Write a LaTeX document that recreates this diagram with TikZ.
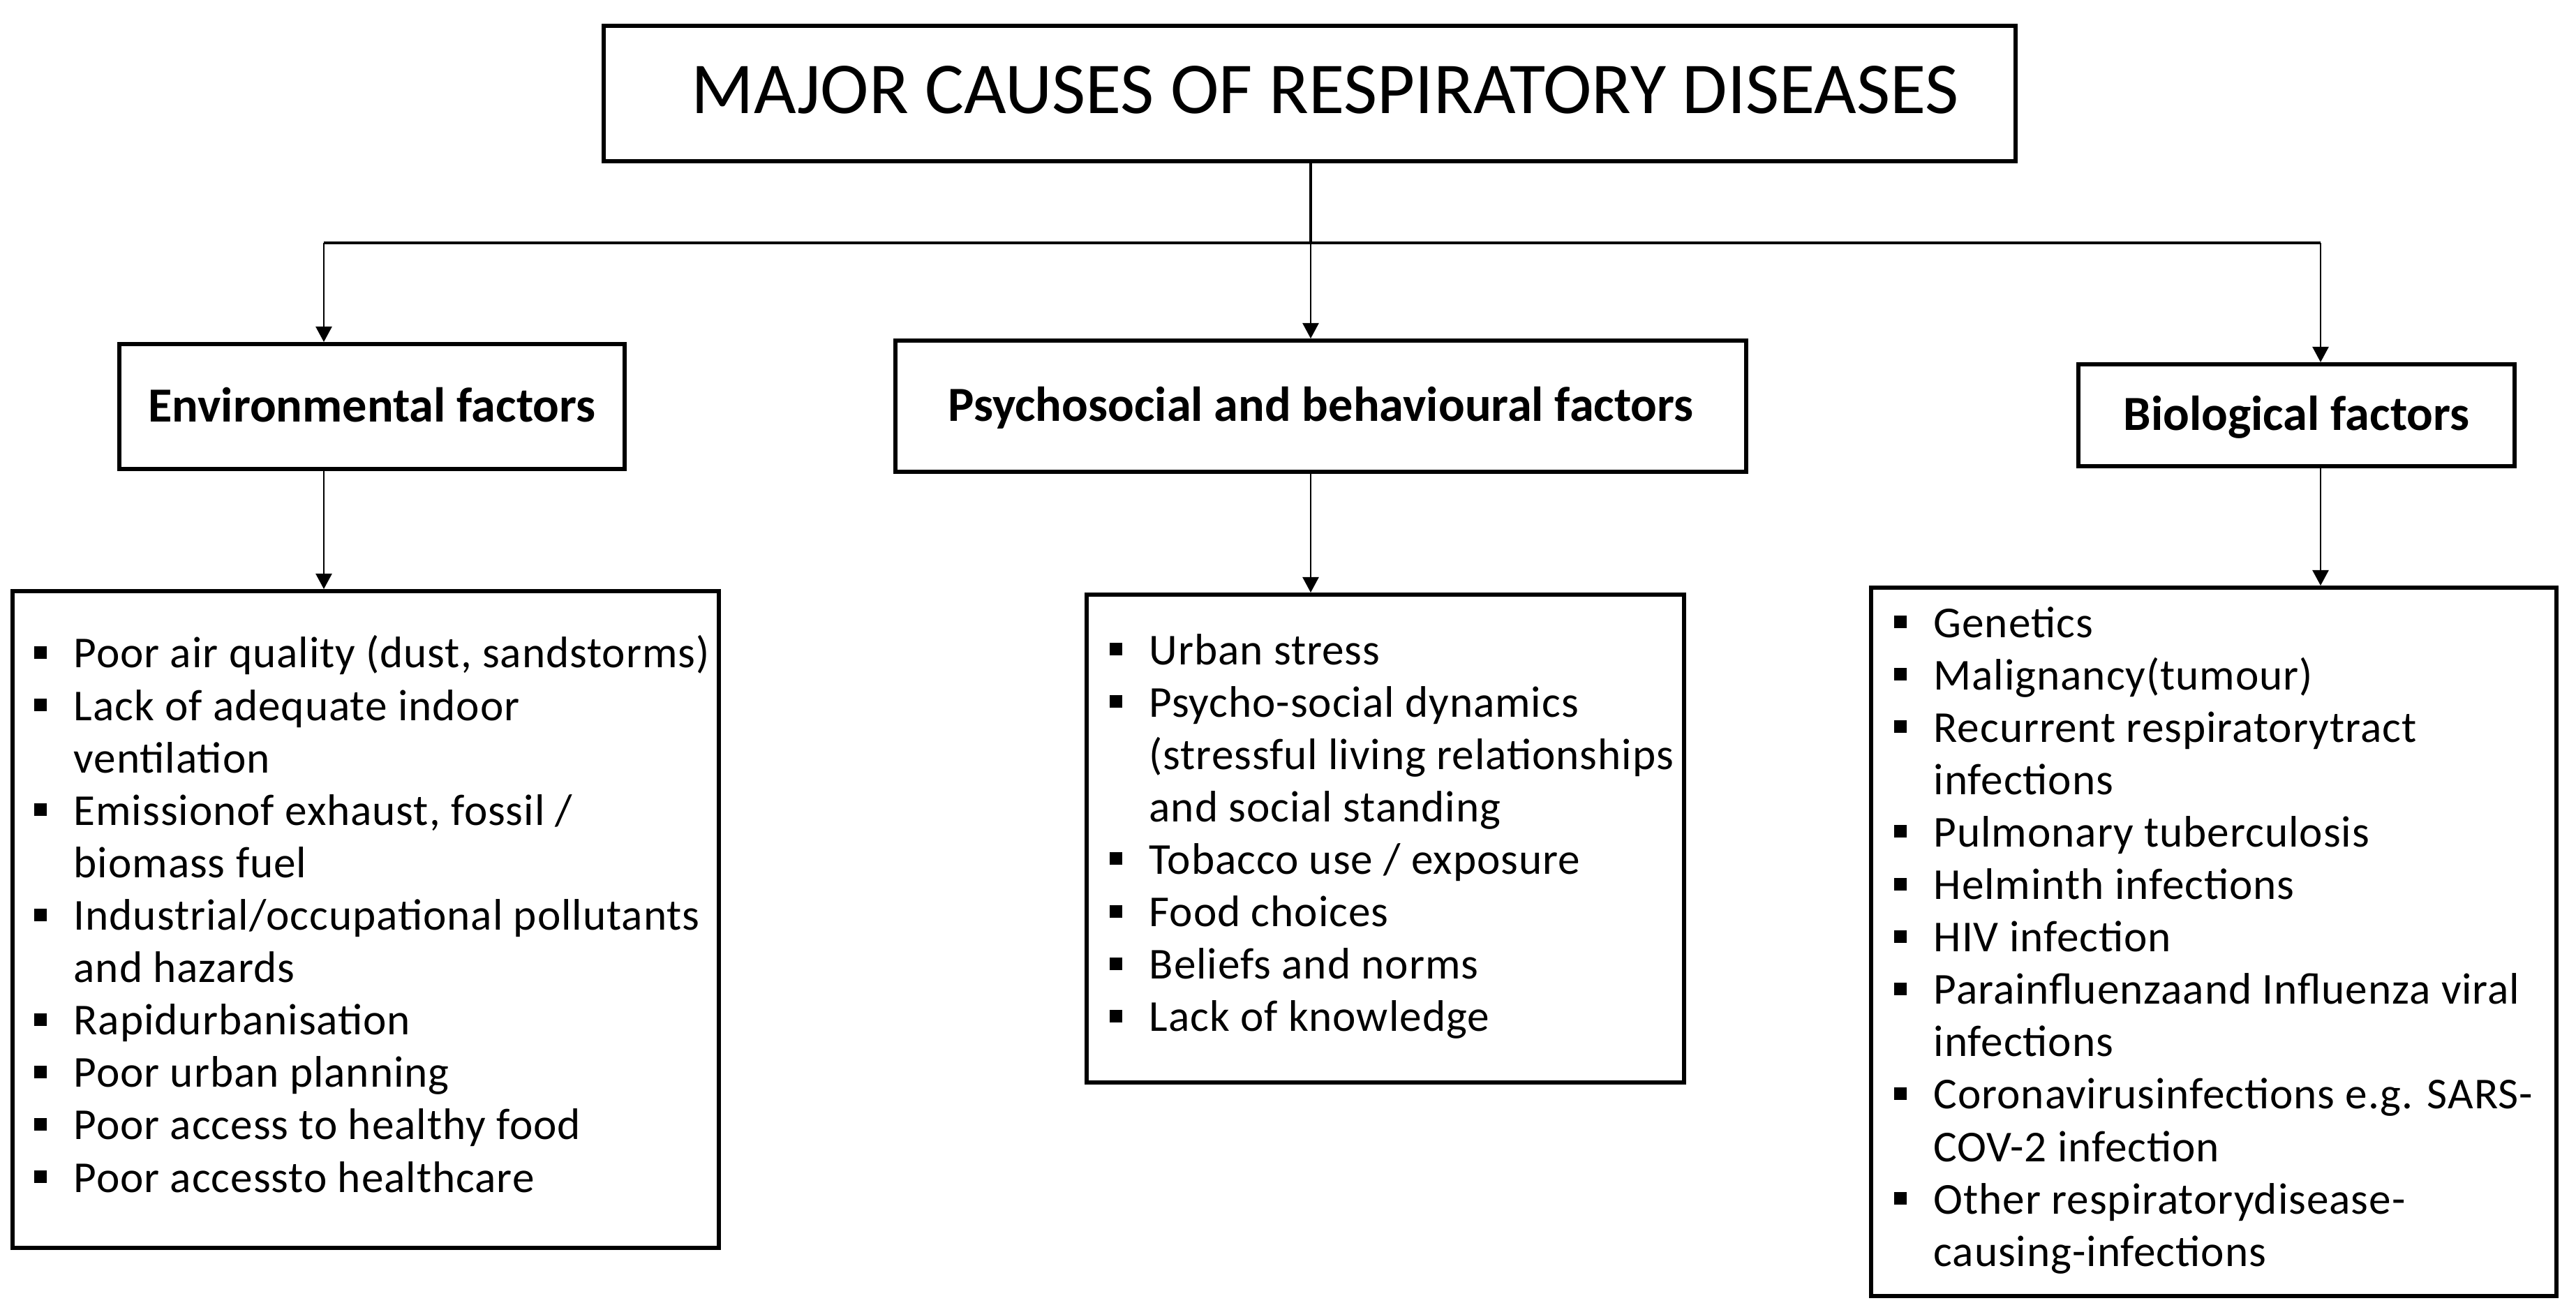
\documentclass[tikz,border=0pt]{standalone}
\usepackage{fontspec}
\setmainfont{Carlito}
\newfontfamily\listfont[LetterSpace=1.5]{Carlito}
\usetikzlibrary{arrows.meta}
\newcommand{\bul}{\makebox[0.57cm][l]{\rule[0.13cm]{0.18cm}{0.18cm}}}
\newcommand{\cnt}{\hspace*{0.57cm}}
\tikzset{
  boxed/.style={draw=black, line width=0.06cm, rectangle, inner sep=0pt},
  titlebox/.style={boxed, font={\fontsize{29.8}{34}\selectfont}, text height=0.66cm, text depth=0.08cm},
  headbox/.style={boxed, font={\fontsize{20}{24}\selectfont\bfseries}, text height=0.5cm, text depth=0.06cm},
  listtext/.style={inner sep=0pt, anchor=base west, font={\listfont\fontsize{18}{21.37}\selectfont}},
  bar/.style={line width=0.045cm},
  arr/.style={line width=0.025cm, -{Triangle[length=0.22cm,width=0.23cm]}}
}
\begin{document}
\begin{tikzpicture}
\useasboundingbox (0,0) rectangle (36.91,-18.77);
% title
\node[titlebox, minimum width=20.23cm, minimum height=1.94cm] (title) at (18.765,-1.34)
  {\hspace*{0.45cm}MAJOR CAUSES OF RESPIRATORY DISEASES};
% headings
\node[headbox, minimum width=7.24cm, minimum height=1.79cm] (envhead) at (5.33,-5.825) {Environmental factors};
\node[headbox, minimum width=12.19cm, minimum height=1.88cm] (psyhead) at (18.925,-5.82) {Psychosocial and behavioural factors};
\node[headbox, minimum width=6.25cm, minimum height=1.46cm] (biohead) at (32.905,-5.95) {Biological factors};
% list boxes
\node[boxed, minimum width=10.12cm, minimum height=9.41cm] (envlist) at (5.24,-13.175) {};
\node[boxed, minimum width=8.56cm, minimum height=6.99cm] (psylist) at (19.85,-12.015) {};
\node[boxed, minimum width=9.82cm, minimum height=10.15cm] (biolist) at (31.72,-13.495) {};
% list texts
\node[listtext] (envtxt) at (0.48,-9.57) {\parbox[t]{10cm}{\raggedright
\bul Poor air quality (dust, sandstorms)\\
\bul Lack of adequate indoor\\
\cnt ventilation\\
\bul Emissionof exhaust, fossil /\\
\cnt biomass fuel\\
\bul Industrial/occupational pollutants\\
\cnt and hazards\\
\bul Rapidurbanisation\\
\bul Poor urban planning\\
\bul Poor access to healthy food\\
\bul Poor accessto healthcare}};
\node[listtext] (psytxt) at (15.89,-9.52) {\parbox[t]{9cm}{\raggedright
\bul Urban stress\\
\bul Psycho-social dynamics\\
\cnt (stressful living relationships\\
\cnt and social standing\\
\bul Tobacco use / exposure\\
\bul Food choices\\
\bul Beliefs and norms\\
\bul Lack of knowledge}};
\node[listtext] (biotxt) at (27.13,-9.13) {\parbox[t]{10cm}{\raggedright
\bul Genetics\\
\bul Malignancy(tumour)\\
\bul Recurrent respiratorytract\\
\cnt infections\\
\bul Pulmonary tuberculosis\\
\bul Helminth infections\\
\bul HIV infection\\
\bul Parainfluenzaand Influenza viral\\
\cnt infections\\
\bul Coronavirusinfections e.g. SARS-\\
\cnt COV-2 infection\\
\bul Other respiratorydisease-\\
\cnt causing-infections}};
% connectors
\coordinate (jL) at (4.64,-3.48);
\coordinate (jR) at (33.25,-3.48);
\coordinate (jM) at (18.78,-3.48);
\draw[bar] (title.south -| jM) -- (jM);
\draw[bar] (jL) -- (jR);
\draw[arr] (jL) -- (jL |- envhead.north);
\draw[arr] (jM) -- (jM |- psyhead.north);
\draw[arr] (jR) -- (jR |- biohead.north);
\draw[arr] (jL |- envhead.south) -- (jL |- envlist.north);
\draw[arr] (jM |- psyhead.south) -- (jM |- psylist.north);
\draw[arr] (jR |- biohead.south) -- (jR |- biolist.north);
\end{tikzpicture}
\end{document}
